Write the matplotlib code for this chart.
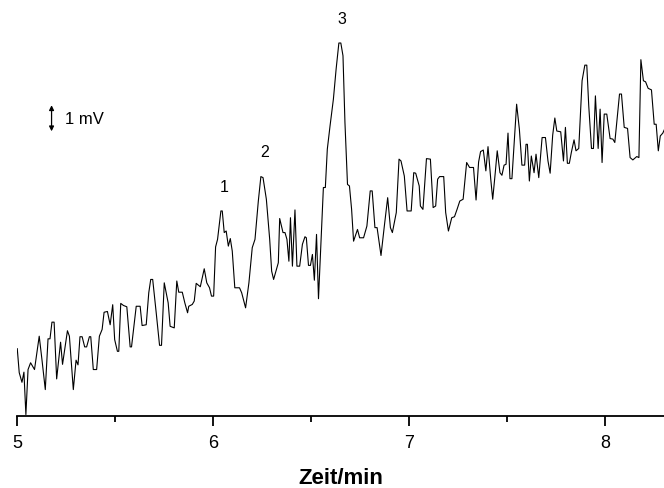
import numpy as np
import matplotlib.pyplot as plt

plt.rcParams['font.family'] = ['Liberation Sans', 'DejaVu Sans']

# Detector trace: retention time (min) and signal (mV)
zeit = [
    5.000, 5.010, 5.024, 5.034, 5.044, 5.055, 5.068, 5.088, 5.112, 5.126,
    5.143, 5.157, 5.167, 5.177, 5.188, 5.201, 5.221, 5.231, 5.256, 5.266,
    5.286, 5.300, 5.310, 5.320, 5.331, 5.344, 5.354, 5.368, 5.375, 5.388,
    5.405, 5.419, 5.433, 5.443, 5.460, 5.474, 5.487, 5.497, 5.511, 5.518,
    5.528, 5.542, 5.559, 5.576, 5.583, 5.607, 5.627, 5.637, 5.658, 5.671,
    5.681, 5.691, 5.709, 5.726, 5.736, 5.750, 5.770, 5.780, 5.801, 5.814,
    5.824, 5.842, 5.855, 5.869, 5.875, 5.893, 5.903, 5.913, 5.934, 5.954,
    5.967, 5.981, 5.991, 6.002, 6.012, 6.022, 6.039, 6.046, 6.056, 6.066,
    6.077, 6.087, 6.097, 6.110, 6.134, 6.145, 6.165, 6.182, 6.199, 6.213,
    6.230, 6.243, 6.254, 6.271, 6.288, 6.298, 6.308, 6.332, 6.339, 6.356,
    6.366, 6.376, 6.386, 6.394, 6.404, 6.417, 6.427, 6.441, 6.455, 6.468,
    6.475, 6.486, 6.496, 6.506, 6.516, 6.527, 6.537, 6.562, 6.572, 6.582,
    6.596, 6.613, 6.627, 6.641, 6.651, 6.662, 6.672, 6.685, 6.695, 6.706,
    6.716, 6.736, 6.747, 6.767, 6.784, 6.801, 6.811, 6.825, 6.836, 6.856,
    6.873, 6.890, 6.904, 6.914, 6.934, 6.948, 6.958, 6.975, 6.989, 7.010,
    7.023, 7.033, 7.051, 7.057, 7.070, 7.088, 7.108, 7.122, 7.135, 7.145,
    7.155, 7.176, 7.186, 7.200, 7.217, 7.231, 7.244, 7.258, 7.275, 7.293,
    7.308, 7.328, 7.341, 7.354, 7.364, 7.378, 7.391, 7.402, 7.416, 7.426,
    7.439, 7.449, 7.463, 7.473, 7.484, 7.494, 7.504, 7.514, 7.524, 7.548,
    7.562, 7.575, 7.589, 7.596, 7.603, 7.613, 7.623, 7.637, 7.647, 7.661,
    7.678, 7.695, 7.708, 7.719, 7.732, 7.743, 7.753, 7.773, 7.787, 7.797,
    7.807, 7.817, 7.827, 7.841, 7.851, 7.865, 7.882, 7.896, 7.906, 7.916,
    7.930, 7.940, 7.950, 7.964, 7.974, 7.984, 7.995, 8.008, 8.025, 8.039,
    8.049, 8.073, 8.083, 8.097, 8.114, 8.127, 8.141, 8.161, 8.172, 8.182,
    8.195, 8.206, 8.219, 8.236, 8.250, 8.260, 8.271, 8.281, 8.294, 8.301,
]
signal = [
    2.57, 1.65, 1.28, 1.67, 0.04, 1.77, 2.03, 1.77, 3.05, 2.15,
    1.00, 2.95, 2.95, 3.59, 3.59, 1.41, 2.82, 1.97, 3.26, 3.05,
    1.00, 2.13, 1.95, 3.03, 3.03, 2.64, 2.64, 3.03, 3.03, 1.77,
    1.77, 3.05, 3.31, 3.97, 4.00, 3.49, 4.26, 2.92, 2.47, 2.47,
    4.31, 4.23, 4.18, 2.64, 2.64, 4.20, 4.20, 3.46, 3.49, 4.72,
    5.23, 5.23, 3.95, 2.70, 2.70, 5.10, 4.33, 3.43, 3.37, 5.17,
    4.74, 4.74, 4.33, 3.95, 4.20, 4.27, 4.40, 5.08, 4.95, 5.64,
    5.10, 4.91, 4.59, 4.59, 6.48, 6.77, 7.86, 7.86, 7.03, 7.09,
    6.51, 6.80, 6.32, 4.91, 4.91, 4.72, 4.14, 5.10, 6.45, 6.77,
    8.24, 9.18, 9.14, 8.31, 6.77, 5.55, 5.23, 5.87, 7.57, 7.03,
    7.03, 6.77, 5.93, 7.60, 5.74, 7.90, 5.74, 5.74, 6.58, 6.87,
    6.83, 5.77, 5.77, 6.19, 5.20, 6.96, 4.49, 8.76, 8.76, 10.23,
    11.13, 12.15, 13.31, 14.31, 14.31, 13.82, 11.26, 8.88, 8.82, 7.92,
    6.70, 7.15, 6.83, 6.83, 7.28, 8.63, 8.63, 7.22, 7.22, 6.15,
    7.28, 8.37, 7.22, 7.03, 7.80, 9.85, 9.78, 9.20, 7.86, 7.86,
    9.33, 9.31, 8.82, 8.05, 7.92, 9.87, 9.85, 7.99, 8.05, 9.08,
    9.18, 9.18, 7.80, 7.09, 7.60, 7.64, 7.92, 8.24, 8.31, 9.72,
    9.53, 9.53, 8.28, 9.74, 10.14, 10.20, 9.40, 10.33, 9.08, 8.31,
    9.33, 10.17, 9.33, 9.23, 9.62, 9.65, 10.85, 9.10, 9.10, 11.96,
    11.00, 9.62, 9.62, 10.42, 10.42, 9.01, 9.97, 9.33, 10.04, 9.14,
    10.68, 10.68, 9.78, 9.31, 10.77, 11.43, 10.93, 10.90, 9.78, 11.07,
    9.69, 9.69, 10.10, 10.59, 10.17, 10.26, 12.86, 13.46, 13.46, 11.90,
    10.26, 10.26, 12.28, 10.26, 11.77, 9.72, 11.58, 11.58, 10.64, 10.62,
    10.49, 12.35, 12.35, 11.07, 11.03, 9.91, 9.82, 9.95, 9.91, 13.67,
    12.86, 12.82, 12.57, 12.51, 11.19, 11.19, 10.17, 10.74, 10.85, 10.97,
]

# Numbered peaks (approximate retention times)
peak_names = ['1', '2', '3']
peak_times = [6.045, 6.25, 6.645]

t = np.array(zeit)
s = np.array(signal)

fig = plt.figure(figsize=(6.64, 4.89), dpi=100)
ax = fig.add_axes([0.026, 0.148, 0.974, 0.852])

ax.plot(t, s, color='black', linewidth=0.8)

# peak numbers just above each apex
for name, pt in zip(peak_names, peak_times):
    near = np.abs(t - pt) < 0.03
    ax.text(pt + 0.012, s[near].max() + 0.95, name, ha='center', va='center',
            fontsize=11.5)

# 1 mV scale bar
ax.annotate('', xy=(5.175, 11.92), xytext=(5.175, 10.92),
            arrowprops=dict(arrowstyle='<|-|>', color='black', lw=0.9,
                            mutation_scale=7, shrinkA=0, shrinkB=0))
ax.text(5.242, 11.42, '1 mV', ha='left', va='center', fontsize=12)

ax.set_xlim(5.0, 8.30)
ax.set_ylim(0, 16)

for side in ['left', 'right', 'top']:
    ax.spines[side].set_visible(False)
ax.spines['bottom'].set_linewidth(1.3)
ax.set_yticks([])

ax.set_xticks([5, 6, 7, 8])
ax.set_xticks([5.5, 6.5, 7.5], minor=True)
ax.tick_params(axis='x', which='major', direction='out', length=7.5,
               width=1.3, labelsize=13, pad=6)
ax.tick_params(axis='x', which='minor', direction='out', length=4,
               width=1.3)
ax.set_xlabel('Zeit/min', fontsize=16, fontweight='bold', labelpad=11)

fig.savefig('out.png', dpi=100)
